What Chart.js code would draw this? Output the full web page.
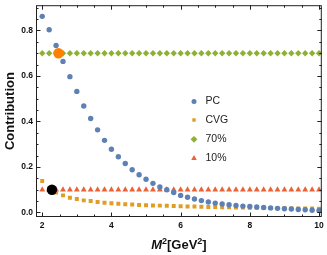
<!DOCTYPE html>
<html><head><meta charset="utf-8">
<script src="https://cdn.jsdelivr.net/npm/chart.js@4"></script>
<style>html,body{margin:0;padding:0;background:#fff;}#wrap{width:327px;height:255px;}</style>
</head><body><div id="wrap"><canvas id="c" width="327" height="255"></canvas></div>
<script>
const xValues = [2.0,2.2,2.4,2.6,2.8,3.0,3.2,3.4,3.6,3.8,4.0,4.2,4.4,4.6,4.8,5.0,5.2,5.4,5.6,5.8,6.0,6.2,6.4,6.6,6.8,7.0,7.2,7.4,7.6,7.8,8.0,8.2,8.4,8.6,8.8,9.0,9.2,9.4,9.6,9.8,10.0];
const pcValues = [0.862,0.803,0.734,0.664,0.597,0.532,0.468,0.413,0.363,0.317,0.278,0.245,0.215,0.188,0.166,0.146,0.128,0.112,0.100,0.088,0.075,0.067,0.059,0.052,0.046,0.041,0.037,0.034,0.031,0.028,0.026,0.024,0.022,0.020,0.018,0.016,0.015,0.013,0.012,0.010,0.009];
const cvgValues = [0.138,0.105,0.088,0.075,0.065,0.059,0.053,0.050,0.046,0.043,0.040,0.038,0.036,0.035,0.033,0.032,0.031,0.030,0.029,0.028,0.027,0.026,0.026,0.025,0.024,0.024,0.023,0.023,0.022,0.022,0.021,0.021,0.020,0.020,0.019,0.019,0.018,0.018,0.017,0.017,0.016];
const line70Values = [0.7,0.7,0.7,0.7,0.7,0.7,0.7,0.7,0.7,0.7,0.7,0.7,0.7,0.7,0.7,0.7,0.7,0.7,0.7,0.7,0.7,0.7,0.7,0.7,0.7,0.7,0.7,0.7,0.7,0.7,0.7,0.7,0.7,0.7,0.7,0.7,0.7,0.7,0.7,0.7,0.7];
const line10Values = [0.1,0.1,0.1,0.1,0.1,0.1,0.1,0.1,0.1,0.1,0.1,0.1,0.1,0.1,0.1,0.1,0.1,0.1,0.1,0.1,0.1,0.1,0.1,0.1,0.1,0.1,0.1,0.1,0.1,0.1,0.1,0.1,0.1,0.1,0.1,0.1,0.1,0.1,0.1,0.1,0.1];
const orangePoint = [{x:2.47, y:0.7}];
const blackPoint = [{x:2.28, y:0.1}];
const seriesLabels = ['PC','CVG','70%','10%'];
const xTicks = [2,4,6,8,10];
const yTicks = [0.0,0.2,0.4,0.6,0.8];
const xMinor = [2,2.5,3,3.5,4,4.5,5,5.5,6,6.5,7,7.5,8,8.5,9,9.5,10];
const yMinor = [0,0.05,0.1,0.15,0.2,0.25,0.3,0.35,0.4,0.45,0.5,0.55,0.6,0.65,0.7,0.75,0.8,0.85,0.9];

const pts = ys => xValues.map((x,i)=>({x:x,y:ys[i]}));
const FONT = "'Liberation Sans', Arial, sans-serif";

const frameTicks = {
  id:'frameTicks',
  afterDraw(chart){
    const ctx = chart.ctx, a = chart.chartArea, xs = chart.scales.x, ys = chart.scales.y;
    ctx.save();
    ctx.strokeStyle = '#222'; ctx.lineWidth = 1;
    ctx.strokeRect(a.left+0.5, a.top+0.5, a.right-a.left-1, a.bottom-a.top-1);
    ctx.beginPath();
    xMinor.forEach(v=>{
      const p = Math.round(xs.getPixelForValue(v))+0.5;
      const L = xTicks.includes(v) ? 4.5 : 2.5;
      ctx.moveTo(p,a.bottom); ctx.lineTo(p,a.bottom-L);
      ctx.moveTo(p,a.top); ctx.lineTo(p,a.top+L);
    });
    yMinor.forEach(v=>{
      const p = Math.round(ys.getPixelForValue(v))+0.5;
      const L = yTicks.some(t=>Math.abs(t-v)<1e-9) ? 4.5 : 2.5;
      ctx.moveTo(a.left,p); ctx.lineTo(a.left+L,p);
      ctx.moveTo(a.right,p); ctx.lineTo(a.right-L,p);
    });
    ctx.stroke();
    ctx.fillStyle = '#111';
    ctx.save();
    ctx.translate(10, (a.top+a.bottom)/2);
    ctx.rotate(-Math.PI/2);
    ctx.font = "bold 13px "+FONT;
    ctx.textAlign='center'; ctx.textBaseline='middle';
    ctx.fillText('Contribution',0,0);
    ctx.restore();
    const parts = [
      {t:'M', f:"italic bold 13px "+FONT, dy:0},
      {t:'2', f:"bold 9px "+FONT, dy:-5},
      {t:'[GeV', f:"bold 13px "+FONT, dy:0},
      {t:'2', f:"bold 9px "+FONT, dy:-5},
      {t:']', f:"bold 13px "+FONT, dy:0}
    ];
    let w = 0;
    parts.forEach(p=>{ctx.font=p.f; p.w=ctx.measureText(p.t).width; w+=p.w;});
    let x = (a.left+a.right)/2 - w/2;
    ctx.textAlign='left'; ctx.textBaseline='alphabetic';
    parts.forEach(p=>{ctx.font=p.f; ctx.fillText(p.t,x,249+p.dy); x+=p.w;});
    ctx.restore();
  }
};

const legendPlugin = {
  id:'legendPlugin',
  afterDraw(chart){
    const ctx = chart.ctx;
    const legendY = [101.5,120,139.3,158.3];
    [2,3,4,5].forEach((di,k)=>{
      const ds = chart.data.datasets[di];
      ctx.save();
      ctx.fillStyle = ds.backgroundColor;
      ctx.strokeStyle = ds.backgroundColor;
      ctx.lineWidth = 0;
      Chart.helpers.drawPoint(ctx, {pointStyle: ds.pointStyle, radius: ds.legendRadius, rotation:0, borderWidth:0}, 194, legendY[k]);
      ctx.fillStyle = '#222';
      ctx.font = "10.5px "+FONT;
      ctx.textAlign='left'; ctx.textBaseline='middle';
      ctx.fillText(seriesLabels[k], 205.5, legendY[k]);
      ctx.restore();
    });
  }
};

new Chart(document.getElementById('c'), {
  type:'scatter',
  data:{datasets:[
    {label:'orange', data:orangePoint, backgroundColor:'#FF8000', borderWidth:0, pointRadius:5.2, pointStyle:'circle'},
    {label:'black', data:blackPoint, backgroundColor:'#000000', borderWidth:0, pointRadius:5.2, pointStyle:'circle'},
    {label:seriesLabels[0], data:pts(pcValues), backgroundColor:'#5E81B5', borderWidth:0, pointRadius:2.7, pointStyle:'circle', legendRadius:2.5},
    {label:seriesLabels[1], data:pts(cvgValues), backgroundColor:'#E19C24', borderWidth:0, pointRadius:2.8, pointStyle:'rect', legendRadius:2.4},
    {label:seriesLabels[2], data:pts(line70Values), backgroundColor:'#8FB032', borderWidth:0, pointRadius:3.2, pointStyle:'rectRot', legendRadius:3.4},
    {label:seriesLabels[3], data:pts(line10Values), backgroundColor:'#EB6235', borderWidth:0, pointRadius:3.4, pointStyle:'triangle', legendRadius:3.2}
  ]},
  options:{
    responsive:false, animation:false, devicePixelRatio:1,
    layout:{padding:{top:1,right:4.5,bottom:0,left:0}},
    plugins:{legend:{display:false}, tooltip:{enabled:false}},
    elements:{point:{hoverRadius:0}},
    scales:{
      x:{type:'linear', min:1.82, max:10.08,
        afterBuildTicks: s=>{s.ticks = xTicks.map(v=>({value:v}));},
        afterFit: s=>{s.height=38; s.paddingLeft=0; s.paddingRight=0; s.paddingTop=0; s.paddingBottom=0;},
        grid:{display:false, drawTicks:false}, border:{display:false},
        ticks:{padding:4, color:'#111', font:{family:FONT, size:8.5, weight:'bold'}, callback:v=>String(v), maxRotation:0, autoSkip:false}
      },
      y:{type:'linear', min:-0.02, max:0.911,
        afterBuildTicks: s=>{s.ticks = yTicks.map(v=>({value:v}));},
        afterFit: s=>{s.width=36; s.paddingLeft=0; s.paddingRight=0; s.paddingTop=0; s.paddingBottom=0;},
        grid:{display:false, drawTicks:false}, border:{display:false},
        ticks:{padding:3, color:'#111', font:{family:FONT, size:8.5, weight:'bold'}, callback:v=>v.toFixed(1), autoSkip:false}
      }
    }
  },
  plugins:[frameTicks, legendPlugin]
});
</script>
</body></html>
